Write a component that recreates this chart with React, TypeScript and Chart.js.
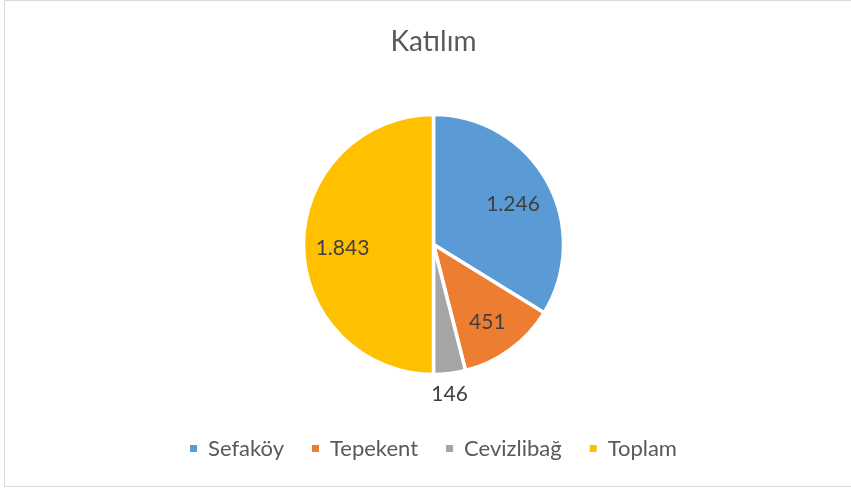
import React, { useEffect, useRef } from 'react';
import { Chart, registerables } from 'chart.js';

Chart.register(...registerables);

const chartTitle = 'Katılım';
const categories = ['Sefaköy', 'Tepekent', 'Cevizlibağ', 'Toplam'];
const values = [1246, 451, 146, 1843];
const colors = ['#5B9BD5', '#ED7D31', '#A5A5A5', '#FFC000'];

function fmt(v: number): string {
  return String(v).replace(/\B(?=(\d{3})+(?!\d))/g, '.');
}

const sliceLabels = {
  id: 'sliceLabels',
  afterDatasetsDraw(chart: any) {
    const ctx = chart.ctx;
    const meta = chart.getDatasetMeta(0);
    const total = values.reduce((a, b) => a + b, 0);
    ctx.save();
    ctx.font = '21px Lato';
    ctx.fillStyle = '#404040';
    ctx.textAlign = 'center';
    ctx.textBaseline = 'middle';
    meta.data.forEach((arc: any, i: number) => {
      const { x, y, startAngle, endAngle, outerRadius } = arc.getProps(
        ['x', 'y', 'startAngle', 'endAngle', 'outerRadius'],
        true
      );
      const mid = (startAngle + endAngle) / 2;
      const frac = values[i] / total;
      let lx: number;
      let ly: number;
      if (frac < 0.06) {
        lx = x + Math.cos(mid) * outerRadius;
        ly = y + Math.sin(mid) * outerRadius + 21;
      } else {
        const d = outerRadius * 0.7;
        lx = x + Math.cos(mid) * d;
        ly = y + Math.sin(mid) * d + 4;
      }
      ctx.fillText(fmt(values[i]), lx, ly);
    });
    ctx.restore();
  },
};

export default function App() {
  const ref = useRef<HTMLCanvasElement | null>(null);

  useEffect(() => {
    if (!ref.current) return;
    const baseGen = (Chart as any).overrides.doughnut.plugins.legend.labels.generateLabels;
    const chart = new Chart(ref.current, {
      type: 'pie',
      data: {
        labels: categories,
        datasets: [
          {
            data: values,
            backgroundColor: colors,
            borderColor: '#ffffff',
            borderWidth: 3.5,
            radius: 130,
          } as any,
        ],
      },
      options: {
        animation: false,
        responsive: false,
        layout: { padding: { left: 16, right: 0, top: 0, bottom: 19.5 } },
        plugins: {
          title: {
            display: true,
            text: chartTitle,
            color: '#595959',
            font: { family: 'Lato', size: 28, weight: 'normal' },
            padding: { top: 25, bottom: 20.9 },
          },
          legend: {
            position: 'bottom',
            labels: {
              color: '#595959',
              font: { family: 'Lato', size: 22 },
              boxWidth: 7,
              boxHeight: 7,
              padding: 28,
              generateLabels: (c: any) =>
                baseGen(c).map((l: any) => ({ ...l, lineWidth: 0 })),
            },
          },
          tooltip: { enabled: false },
        },
      } as any,
      plugins: [sliceLabels],
    });
    return () => chart.destroy();
  }, []);

  return (
    <div
      style={{
        position: 'fixed',
        left: 0,
        top: 0,
        width: 851,
        height: 489,
        background: '#ffffff',
        overflow: 'hidden',
      }}
    >
      <div
        style={{
          position: 'absolute',
          left: 4,
          top: 0,
          width: 870,
          height: 487,
          boxSizing: 'border-box',
          border: '1px solid #d9d9d9',
        }}
      />
      <canvas
        ref={ref}
        width={851}
        height={489}
        style={{ position: 'absolute', left: 0, top: 0, width: 851, height: 489 }}
      />
    </div>
  );
}
